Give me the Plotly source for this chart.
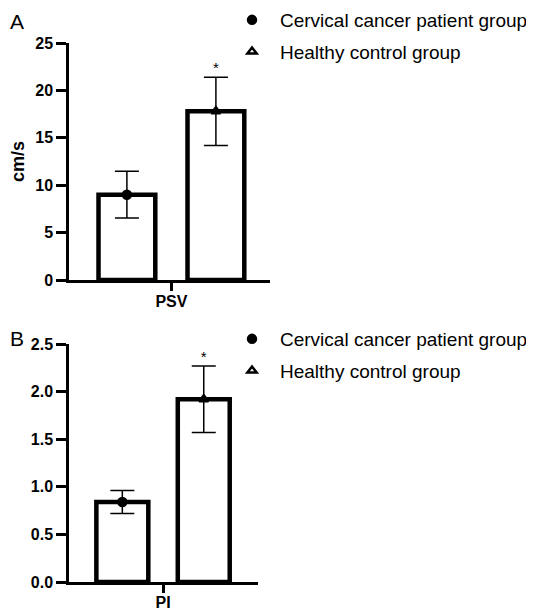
import plotly.graph_objects as go

# ---- data ----
groups = ["Cervical cancer patient group", "Healthy control group"]
psv_category = ["PSV"]
psv_means = [9.0, 17.8]
psv_sd = [2.47, 3.6]
pi_category = ["PI"]
pi_means = [0.84, 1.92]
pi_sd = [0.12, 0.35]
significance = ["", "*"]
psv_ticks = [0, 5, 10, 15, 20, 25]
pi_ticks = [0.0, 0.5, 1.0, 1.5, 2.0, 2.5]

OFF = 8  # default page body margin
W, H = 534 - OFF, 611 - OFF
FONT = "Liberation Sans, Arial, sans-serif"
symbols = ["circle", "triangle-up-open"]
offsets = ["g1", "g2"]


def px_x(p):
    return (p - OFF) / W


def px_y(p):
    return 1 - (p - OFF) / H


fig = go.Figure()


def add_panel(cat, means, sd, xa, ya, legend):
    for i in range(2):
        fig.add_trace(go.Bar(
            x=cat, y=[means[i]], offsetgroup=offsets[i],
            marker=dict(color="white", line=dict(color="black", width=4.5)),
            showlegend=False, xaxis=xa, yaxis=ya, hoverinfo="skip",
        ))
    for i in range(2):
        fig.add_trace(go.Scatter(
            x=cat, y=[means[i]], offsetgroup=offsets[i], mode="markers",
            name=groups[i],
            marker=dict(symbol=symbols[i], size=8,
                        color="black", line=dict(color="black", width=2.5)),
            error_y=dict(type="data", array=[sd[i]], color="black",
                         thickness=1.5, width=12),
            xaxis=xa, yaxis=ya, legend=legend, legendgroup=legend + str(i),
        ))
    fig.add_trace(go.Scatter(
        x=cat, y=[means[1] + sd[1]], offsetgroup=offsets[1], mode="text",
        text=[significance[1]], textposition="top center",
        textfont=dict(family=FONT, size=15, color="black"),
        showlegend=False, xaxis=xa, yaxis=ya, hoverinfo="skip",
    ))


add_panel(psv_category, psv_means, psv_sd, "x", "y", "legend")
add_panel(pi_category, pi_means, pi_sd, "x2", "y2", "legend2")

axis_common = dict(showline=True, linecolor="black", linewidth=2.5,
                   ticks="outside", tickwidth=2.5, tickcolor="black",
                   showgrid=False, zeroline=False, automargin=False,
                   tickfont=dict(family=FONT, size=16, color="black", weight="bold"))

legend_common = dict(font=dict(family=FONT, size=19, color="black"),
                     bgcolor="rgba(0,0,0,0)", itemwidth=46, tracegroupgap=4,
                     xanchor="left", yanchor="top", itemclick=False)

fig.update_layout(
    width=W, height=H, margin=dict(l=0, r=0, t=0, b=0, autoexpand=False),
    paper_bgcolor="white", plot_bgcolor="white",
    barmode="group", bargap=0.11, bargroupgap=0.362,
    scattermode="group",
    font=dict(family=FONT, color="black"),
    xaxis=dict(domain=[px_x(69), px_x(270)], anchor="y", type="category",
               range=[-0.512, 0.493], ticklen=8, ticklabelstandoff=-3,
               **axis_common),
    yaxis=dict(domain=[px_y(280), px_y(43)], anchor="x", range=[0, 25],
               tickvals=psv_ticks, ticklen=10,
               title=dict(text="cm/s", font=dict(family=FONT, size=18, weight="bold"),
                          standoff=10),
               **axis_common),
    xaxis2=dict(domain=[px_x(69), px_x(258)], anchor="y2", type="category",
                range=[-0.514, 0.519], ticklen=8, ticklabelstandoff=-4,
                **axis_common),
    yaxis2=dict(domain=[px_y(582), px_y(344)], anchor="x2", range=[0, 2.5],
                tickvals=pi_ticks, tickformat=".1f", ticklen=10, **axis_common),
    legend=dict(x=px_x(216 + OFF), y=px_y(1), **legend_common),
    legend2=dict(x=px_x(216 + OFF), y=px_y(320), **legend_common),
    annotations=[
        dict(text="A", x=px_x(8), y=px_y(8), xref="paper", yref="paper",
             xanchor="left", yanchor="top", showarrow=False,
             font=dict(family=FONT, size=21, color="black")),
        dict(text="B", x=px_x(8), y=px_y(325), xref="paper", yref="paper",
             xanchor="left", yanchor="top", showarrow=False,
             font=dict(family=FONT, size=21, color="black")),
    ],
)

fig.write_html("out.html")
